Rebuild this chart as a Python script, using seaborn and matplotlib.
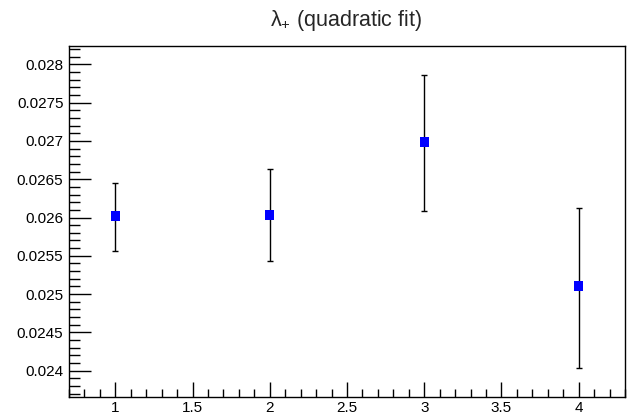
import matplotlib
matplotlib.use("Agg")
import matplotlib.pyplot as plt
from matplotlib.ticker import MultipleLocator
import seaborn as sns
import pandas as pd

x_vals = [1, 2, 3, 4]
y_vals = [0.02602, 0.026033, 0.026984, 0.025107]
y_err_up = [0.00043, 0.00060, 0.00088, 0.00102]
y_err_down = [0.00046, 0.00060, 0.00090, 0.00107]
y_tick_labels = ["0.024", "0.0245", "0.025", "0.0255", "0.026", "0.0265", "0.027", "0.0275", "0.028"]
x_tick_labels = ["1", "1.5", "2", "2.5", "3", "3.5", "4"]

sns.set_style("white")
plt.rcParams['font.family'] = ['Liberation Sans', 'DejaVu Sans']
plt.rcParams['mathtext.fontset'] = 'custom'
plt.rcParams['mathtext.rm'] = 'Liberation Sans'
plt.rcParams['mathtext.it'] = 'Liberation Sans'

df = pd.DataFrame({"x": x_vals, "y": y_vals})

fig = plt.figure(figsize=(6.28, 4.15), dpi=100)
ax = fig.add_axes([69/628, 18/415, 556/628, 351/415])

ax.errorbar(x_vals, y_vals, yerr=[y_err_down, y_err_up], fmt="none",
            ecolor="black", elinewidth=1.0, capsize=2, capthick=1.0, zorder=2)
sns.scatterplot(data=df, x="x", y="y", ax=ax, marker="s", s=45, color="#0000ff",
                edgecolor="none", linewidth=0, zorder=3)

ax.set_xlim(0.7, 4.3)
ax.set_ylim(0.023657, 0.028239)

ax.set_xticks([1, 1.5, 2, 2.5, 3, 3.5, 4])
ax.set_xticklabels(x_tick_labels)
ax.set_yticks([0.024 + 0.0005 * i for i in range(9)])
ax.set_yticklabels(y_tick_labels)
ax.xaxis.set_minor_locator(MultipleLocator(0.1))
ax.yaxis.set_minor_locator(MultipleLocator(0.0001))

ax.tick_params(axis="both", which="both", direction="in", colors="black",
               labelsize=11, top=False, right=False, left=True, bottom=True)
ax.tick_params(axis="y", which="major", length=16, width=1, pad=4)
ax.tick_params(axis="y", which="minor", length=8, width=1)
ax.tick_params(axis="x", which="major", length=11, width=1, pad=3)
ax.tick_params(axis="x", which="minor", length=5.5, width=1)

for sp in ax.spines.values():
    sp.set_visible(True)
    sp.set_color("black")
    sp.set_linewidth(1.0)

ax.set_xlabel("")
ax.set_ylabel("")
fig.text(0.551, 0.950, r"$\lambda_{+}$ (quadratic fit)", ha="center", va="center", fontsize=15.5)

fig.savefig("out.png", dpi=100)
